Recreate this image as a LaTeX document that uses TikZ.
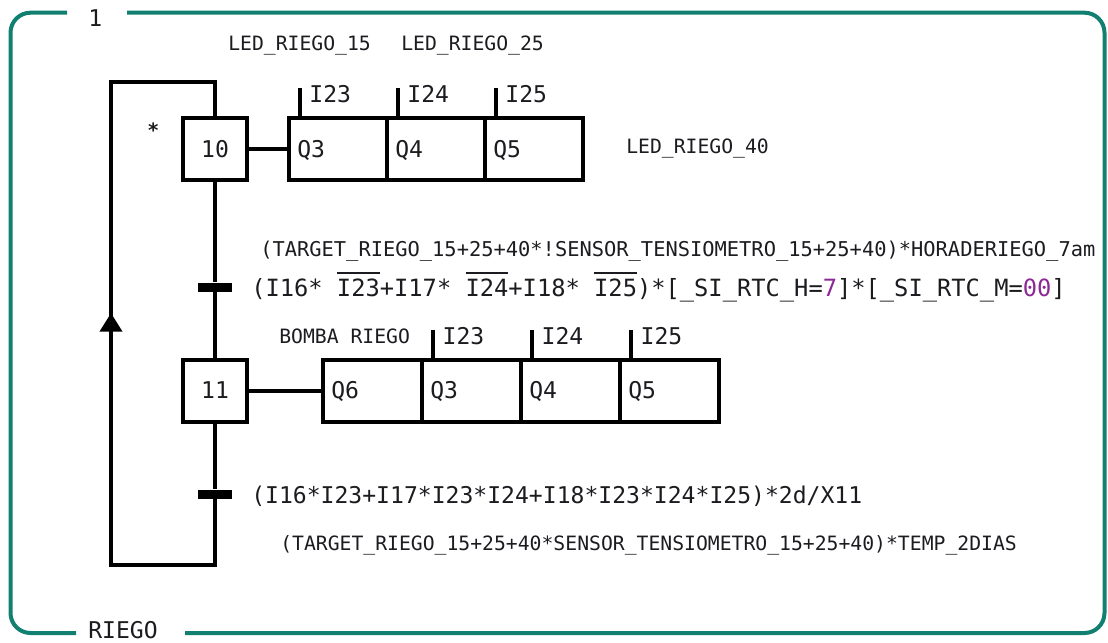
\documentclass[tikz,border=0pt]{standalone}
\usepackage{fontspec}
\usetikzlibrary{arrows.meta}
\newfontfamily\mono{DejaVu Sans Mono}
\definecolor{frameteal}{RGB}{18,128,112}
\definecolor{ink}{RGB}{28,28,32}
\definecolor{litpurple}{RGB}{140,40,150}
% overlined (negated) input
\newsavebox\ovlbox
\newcommand\ovl[1]{\sbox\ovlbox{#1}\rlap{\raisebox{16.5pt}{\rule{\wd\ovlbox}{1.5pt}}}\usebox\ovlbox}

\begin{document}
\begin{tikzpicture}[x=0.75pt,y=-0.75pt,
  wire/.style={line width=3pt, draw=black},
  stepbox/.style={draw=black, line width=3pt, minimum width=48pt, minimum height=46.5pt,
    inner sep=0pt, font=\mono\fontsize{17.3pt}{20pt}\selectfont, text=ink},
  cell/.style={draw=black, line width=3pt, minimum height=46.5pt, inner sep=0pt,
    outer sep=0pt, anchor=west},
  cellA/.style={cell, minimum width=73.5pt},
  cellB/.style={cell, minimum width=74.25pt},
  bar/.style={fill=black, minimum width=26pt, minimum height=6.75pt, inner sep=0pt},
  big/.style={font=\mono\fontsize{17.3pt}{20pt}\selectfont, text=ink, inner sep=0pt, anchor=base west},
  small/.style={font=\mono\fontsize{14.8pt}{17pt}\selectfont, text=ink, inner sep=0pt, anchor=base west},
  tick/.style={line width=3pt}
]
\useasboundingbox (0,0) rectangle (1108,643);

% macro-step frame
\draw[frameteal, line width=3pt, rounded corners=15pt]
  (67,12.7) -- (10.5,12.7) -- (10.5,633) -- (76,633);
\draw[frameteal, line width=3pt, rounded corners=15pt]
  (185,633) -- (1104.5,633) -- (1104.5,12.7) -- (127,12.7);
\node[big] (fnum) at (88,26) {1};
\node[big] (fname) at (88,638) {RIEGO};

% steps
\node[stepbox] (s10) at (215,149) {10};
\node[stepbox] (s11) at (215,390.5) {11};
\node[small, font=\mono\bfseries\fontsize{14.8pt}{17pt}\selectfont] (ini) at (147,137) {*};

% transitions
\node[bar] (t1) at (215,287) {};
\node[bar] (t2) at (215,494) {};

% return loop
\coordinate (lt) at (111,82);
\coordinate (lb) at (111,565);
\coordinate (ah) at (111,313);
\draw[wire] (s10.south) -- (t1) -- (s11.north);
\draw[wire] (s11.south) -- (t2) -- (s11.south |- lb) -- (lb) -- (lt) -- (s10.north |- lt) -- (s10.north);
\draw[wire, -{Triangle[length=14pt,width=16.5pt]}] (lb) -- (ah);

% actions of step 10
\node[cellA] (a1) at (289,149) {};
\node[cellA] (a2) at (a1.east) {};
\node[cellA] (a3) at (a2.east) {};
\draw[wire] (s10.east) -- (a1.west);
\foreach \c/\q/\i in {a1/Q3/I23, a2/Q4/I24, a3/Q5/I25}{
  \draw[tick] ([xshift=8.4pt]\c.north west) -- ++(0,-30) coordinate (\c-top);
  \node[big] (\c-q) at ([xshift=6pt,yshift=-6pt]\c.west) {\q};
  \node[big] (\c-i) at ([xshift=6.7pt]\c-top |- 0,102) {\i};
}

% actions of step 11
\node[cellB] (b1) at (323,390.5) {};
\node[cellB] (b2) at (b1.east) {};
\node[cellB] (b3) at (b2.east) {};
\node[cellB] (b4) at (b3.east) {};
\draw[wire] (s11.east) -- (b1.west);
\node[big] (b1-q) at ([xshift=6pt,yshift=-6pt]b1.west) {Q6};
\foreach \c/\q/\i in {b2/Q3/I23, b3/Q4/I24, b4/Q5/I25}{
  \draw[tick] ([xshift=8.6pt]\c.north west) -- ++(0,-30) coordinate (\c-top);
  \node[big] (\c-q) at ([xshift=6pt,yshift=-6pt]\c.west) {\q};
  \node[big] (\c-i) at ([xshift=6.7pt]\c-top |- 0,344) {\i};
}

% comments / symbols
\node[small] (led15) at (228,50) {LED\_RIEGO\_15};
\node[small] (led25) at (401,50) {LED\_RIEGO\_25};
\node[small] (led40) at (626,153) {LED\_RIEGO\_40};
\node[small] (bomba) at (279,343) {BOMBA RIEGO};

% receptivities
\node[small, font=\mono\fontsize{15.3pt}{17pt}\selectfont] (r1c) at (260,256)
  {(TARGET\_RIEGO\_15+25+40*!SENSOR\_TENSIOMETRO\_15+25+40)*HORADERIEGO\_7am};
\node[big, font=\mono\fontsize{17.8pt}{20pt}\selectfont] (r1) at (251,296)
  {(I16* \ovl{I23}+I17* \ovl{I24}+I18* \ovl{I25})*[\_SI\_RTC\_H=\textcolor{litpurple}{7}]*[\_SI\_RTC\_M=\textcolor{litpurple}{00}]};
\node[big] (r2) at (251,503) {(I16*I23+I17*I23*I24+I18*I23*I24*I25)*2d/X11};
\node[small] (r2c) at (280,550)
  {(TARGET\_RIEGO\_15+25+40*SENSOR\_TENSIOMETRO\_15+25+40)*TEMP\_2DIAS};
\end{tikzpicture}
\end{document}
